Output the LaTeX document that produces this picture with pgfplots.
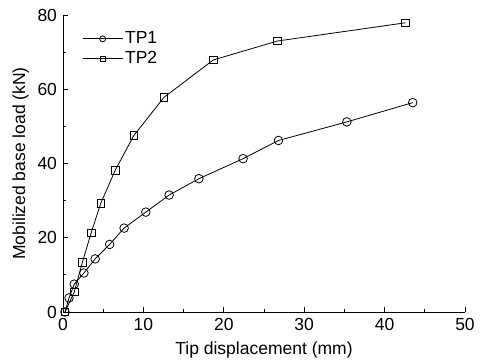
\documentclass[border=0pt]{standalone}
\usepackage{fontspec}
\setmainfont{Liberation Sans}
\usepackage{pgfplots}
\pgfplotsset{compat=1.18}
\begin{document}
\fontsize{17.5}{20}\selectfont
\begin{tikzpicture}
\path[use as bounding box] (0,0) rectangle (480pt,363pt);
\begin{axis}[
  at={(63pt,51pt)}, anchor=south west, scale only axis,
  width=402pt, height=297pt,
  xmin=0, xmax=50, ymin=0, ymax=80,
  axis x line=bottom, axis y line=left,
  axis line style={-, line width=0.8pt},
  xtick={0,10,...,50}, ytick={0,20,...,80},
  minor xtick={5,15,...,45}, minor ytick={10,30,50,70},
  tick align=inside, major tick length=5pt, minor tick length=3pt,
  tick style={black, line width=0.8pt},
  /pgf/number format/assume math mode=true,
  ticklabel style={font=\fontsize{17.5}{20}\selectfont},
  label style={font=\fontsize{17.5}{20}\selectfont},
  xlabel={Tip displacement (mm)},
  ylabel={Mobilized base load (kN)},
  ylabel style={yshift=-3pt},
  clip=false,
  legend style={draw=none, fill=none, at={(0.045,0.955)}, anchor=north west,
    font=\fontsize{17.5}{20}\selectfont, row sep=1pt, inner sep=1pt},
  legend cell align=left,
  legend image code/.code={\draw[mark repeat=2,mark phase=2,#1, every mark/.append style={scale=0.7}] plot coordinates {(0pt,0pt)(20pt,0pt)(40pt,0pt)};},
]
\addplot[black, line width=0.8pt, mark=o, mark size=4.3pt, mark options={fill=white, line width=0.8pt}] coordinates {
(0.25,0) (0.75,3.8) (1.4,7.5) (2.6,10.5) (4.0,14.3) (5.8,18.2) (7.6,22.6) (10.3,26.9) (13.2,31.5) (16.9,35.9) (22.4,41.3) (26.8,46.2) (35.3,51.2) (43.5,56.4)};
\addlegendentry{TP1}
\addplot[black, line width=0.8pt, mark=square, mark size=3.8pt, mark options={fill=white, line width=0.8pt}] coordinates {
(0.25,0) (1.4,5.4) (2.4,13.3) (3.5,21.3) (4.7,29.3) (6.5,38.2) (8.8,47.5) (12.55,57.8) (18.7,67.9) (26.7,73.0) (42.6,77.9)};
\addlegendentry{TP2}
\end{axis}
\end{tikzpicture}
\end{document}
